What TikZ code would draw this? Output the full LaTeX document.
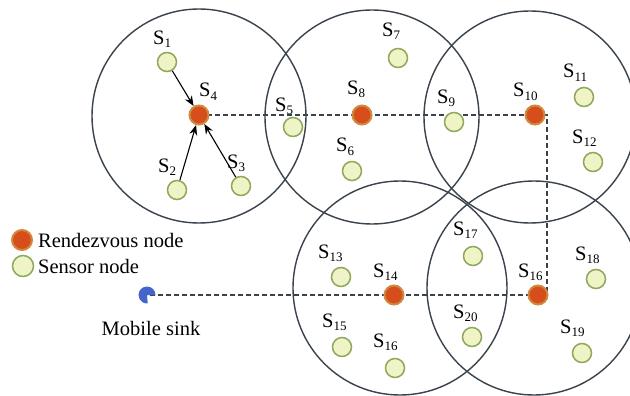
\documentclass[tikz,border=0pt]{standalone}
\usepackage{fontspec}
\setmainfont{Liberation Serif}
\usetikzlibrary{arrows.meta}
\definecolor{sensorfill}{HTML}{EEF4C6}
\definecolor{sensorline}{HTML}{8FA85C}
\definecolor{rdvfill}{HTML}{D64E1C}
\definecolor{rdvline}{HTML}{D08A40}
\definecolor{rangeline}{HTML}{3A424C}
\definecolor{sinkblue}{HTML}{4466CC}
\newcommand\Slab[1]{S\raisebox{-3pt}{\fontsize{13}{13}\selectfont #1}}
\tikzset{
  sensor/.style={circle, draw=sensorline, fill=sensorfill, line width=1.5pt, minimum size=19pt, inner sep=0pt},
  rdv/.style={circle, draw=rdvline, fill=rdvfill, line width=2pt, minimum size=19pt, inner sep=0pt},
  rangecirc/.style={draw=rangeline, line width=1.4pt},
  route/.style={draw=rangeline, line width=1.2pt, dash pattern=on 5pt off 3pt},
  arr/.style={-{Stealth[length=10pt,width=8pt]}, line width=1.1pt, black},
  lbl/.style={anchor=base west, inner sep=0pt, font=\fontsize{20.5}{24}\selectfont},
  txt/.style={inner sep=0pt, font=\fontsize{20.5}{24}\selectfont}
}
\begin{document}
\begin{tikzpicture}[x=1pt,y=-1pt]
\useasboundingbox (0,0) rectangle (630,396);
\fill[white] (0,0) rectangle (630,396);
% range circles
\coordinate (r1) at (199,116);
\coordinate (r2) at (372,117);
\coordinate (r3) at (530,117);
\coordinate (r4) at (400,288);
\coordinate (r5) at (534,288);
\draw[rangecirc] (r1) circle[radius=107pt];
\draw[rangecirc] (r2) circle[radius=107pt];
\draw[rangecirc] (r3) circle[radius=106pt];
\draw[rangecirc] (r4) circle[radius=107pt];
\draw[rangecirc] (r5) circle[radius=107pt];
% route coordinates
\coordinate (p4) at (199,115);
\coordinate (c1) at (547,115);
\coordinate (c2) at (547,295);
\coordinate (sink) at (147,295);
\draw[route] (p4) -- (c1) -- (c2) -- (sink);
% sink
\fill[sinkblue] (sink) -- +(0:8.5pt) arc[start angle=0, end angle=275, radius=8.5pt] -- cycle;
% nodes
\node[sensor] (s1) at (167,62) {};
\node[rdv] (s4) at (p4) {};
\node[sensor] (s2) at (177,190) {};
\node[sensor] (s3) at (241,186) {};
\node[sensor] (s5) at (293,127) {};
\node[rdv] (s8) at (362,115) {};
\node[sensor] (s7) at (398,58) {};
\node[sensor] (s6) at (352,171) {};
\node[sensor] (s9) at (454,122) {};
\node[rdv] (s10) at (535,115) {};
\node[sensor] (s11) at (584,97) {};
\node[sensor] (s12) at (593,162) {};
\node[sensor] (s17) at (473,256) {};
\node[sensor] (s13) at (341,277) {};
\node[rdv] (s14) at (394,295) {};
\node[rdv] (s16) at (538,295) {};
\node[sensor] (s18) at (596,279) {};
\node[sensor] (s15) at (342,347) {};
\node[sensor] (s16b) at (395,368) {};
\node[sensor] (s20) at (472,337) {};
\node[sensor] (s19) at (582,353) {};
% arrows
\draw[arr] (s1) -- (s4);
\draw[arr] (s2) -- (s4);
\draw[arr] (s3) -- (s4);
% labels
\node[lbl] (l1) at (153,45) {\Slab{1}};
\node[lbl] (l4) at (199,97) {\Slab{4}};
\node[lbl] (l5) at (275,112) {\Slab{5}};
\node[lbl] (l2) at (158,172) {\Slab{2}};
\node[lbl] (l3) at (227,168) {\Slab{3}};
\node[lbl] (l7) at (382,37) {\Slab{7}};
\node[lbl] (l8) at (347,95) {\Slab{8}};
\node[lbl] (l9) at (437,103) {\Slab{9}};
\node[lbl] (l6) at (336,152) {\Slab{6}};
\node[lbl] (l10) at (513,97) {\Slab{10}};
\node[lbl] (l11) at (563,78) {\Slab{11}};
\node[lbl] (l12) at (572,143) {\Slab{12}};
\node[lbl] (l17) at (453,235) {\Slab{17}};
\node[lbl] (l13) at (318,258) {\Slab{13}};
\node[lbl] (l14) at (373,277) {\Slab{14}};
\node[lbl] (l16) at (518,277) {\Slab{16}};
\node[lbl] (l18) at (575,260) {\Slab{18}};
\node[lbl] (l15) at (322,327) {\Slab{15}};
\node[lbl] (l16b) at (373,347) {\Slab{16}};
\node[lbl] (l20) at (453,318) {\Slab{20}};
\node[lbl] (l19) at (560,333) {\Slab{19}};
% legend
\node[rdv, minimum size=20pt] (legr) at (22,240) {};
\node[txt, anchor=west] (legrt) at (38,240) {Rendezvous node};
\node[sensor, minimum size=21pt] (legs) at (23,266) {};
\node[txt, anchor=west] (legst) at (38,266) {Sensor node};
\node[txt] (sinkt) at (151,328) {Mobile sink};
\end{tikzpicture}
\end{document}
